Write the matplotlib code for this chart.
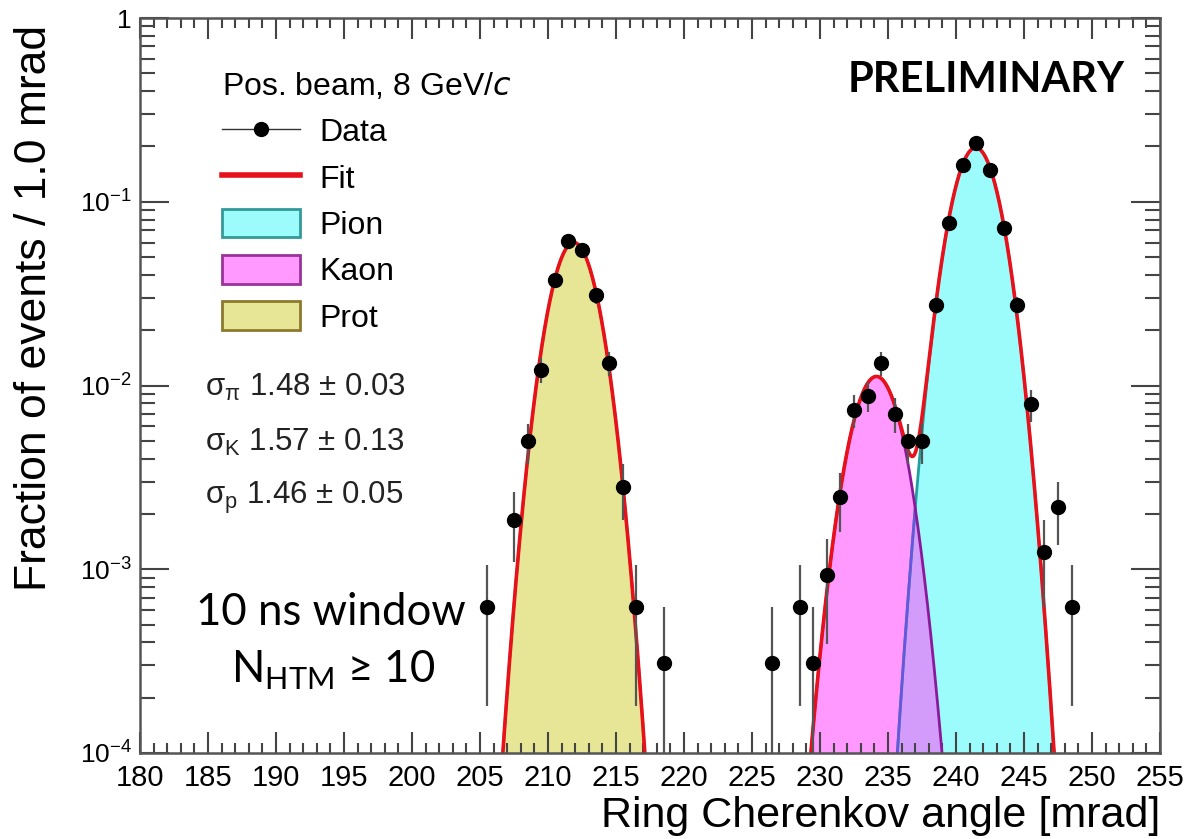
import numpy as np
import matplotlib
matplotlib.use('Agg')
import matplotlib.pyplot as plt
from matplotlib.lines import Line2D
from matplotlib.patches import Patch
from matplotlib.ticker import MultipleLocator, FixedLocator, FixedFormatter, NullFormatter

# 数据：每个 bin 的中心 (mrad) 和事件比例
angle = [205.5, 207.5, 208.5, 209.5, 210.5, 211.5, 212.5, 213.5, 214.5, 215.5, 216.5, 218.5,
         226.5, 228.5, 229.5, 230.5, 231.5, 232.5, 233.5, 234.5, 235.5, 236.5, 237.5,
         238.5, 239.5, 240.5, 241.5, 242.5, 243.5, 244.5, 245.5, 246.5, 247.5, 248.5]
fraction = [6.2e-4, 1.86e-3, 4.96e-3, 1.22e-2, 3.75e-2, 6.14e-2, 5.46e-2, 3.10e-2, 1.32e-2, 2.79e-3, 6.2e-4, 3.1e-4,
            3.1e-4, 6.2e-4, 3.1e-4, 9.3e-4, 2.48e-3, 7.4e-3, 8.8e-3, 1.32e-2, 7.0e-3, 4.96e-3, 4.96e-3,
            2.74e-2, 7.69e-2, 0.158, 0.208, 0.149, 7.16e-2, 2.74e-2, 7.9e-3, 1.24e-3, 2.17e-3, 6.2e-4]
error = [4.4e-4, 7.6e-4, 1.24e-3, 1.94e-3, 3.4e-3, 4.4e-3, 4.1e-3, 3.1e-3, 2.0e-3, 9.3e-4, 4.4e-4, 3.1e-4,
         3.1e-4, 4.4e-4, 3.1e-4, 5.4e-4, 8.8e-4, 1.5e-3, 1.65e-3, 2.0e-3, 1.5e-3, 1.24e-3, 1.24e-3,
         2.9e-3, 4.9e-3, 7.0e-3, 8.0e-3, 6.8e-3, 4.7e-3, 2.9e-3, 1.55e-3, 6.2e-4, 8.2e-4, 4.4e-4]

# 拟合参数：幅度, 均值, sigma
pion_fit = [0.197, 241.45, 1.48]
kaon_fit = [0.0112, 234.15, 1.57]
prot_fit = [0.060, 211.9, 1.46]

sigma_labels = ['σ$_\\mathregular{π}$ 1.48 ± 0.03',
                'σ$_\\mathregular{K}$ 1.57 ± 0.13',
                'σ$_\\mathregular{p}$ 1.46 ± 0.05']

helv = ['Liberation Sans', 'DejaVu Sans']
calib = ['Lato', 'DejaVu Sans']


def gauss(x, p):
    return p[0] * np.exp(-0.5 * ((x - p[1]) / p[2]) ** 2)


x = np.linspace(180, 255, 4000)
pion = gauss(x, pion_fit)
kaon = gauss(x, kaon_fit)
prot = gauss(x, prot_fit)
total = pion + kaon + prot

fig = plt.figure(figsize=(11.91, 8.39), dpi=100)
ax = fig.add_axes([140 / 1191, 1 - 753 / 839, 1020 / 1191, 735 / 839])
ax.set_yscale('log')
ax.set_xlim(180, 255)
ax.set_ylim(1e-4, 1)

# 填充各粒子成分
c_pion, c_kaon, c_prot, c_both = '#9cfcfc', '#ff99ff', '#e6e696', '#d49cfa'
ax.fill_between(x, 1e-6, pion, where=pion > 1e-6, color=c_pion, lw=0)
ax.fill_between(x, 1e-6, kaon, where=kaon > 1e-6, color=c_kaon, lw=0)
both = np.minimum(pion, kaon)
ax.fill_between(x, 1e-6, both, where=both > 1e-6, color=c_both, lw=0)
ax.fill_between(x, 1e-6, prot, where=prot > 1e-6, color=c_prot, lw=0)

ax.plot(x, pion, color='#22a0a0', lw=2)
low = pion < kaon
ax.plot(x[low], pion[low], color='#6a55dd', lw=2)
ax.plot(x, kaon, color='#8a1a9a', lw=2)
ax.plot(x, prot, color='#999933', lw=2)
ax.plot(x, total, color='#e8101a', lw=2.6)

# 数据点和误差棒
fr = np.array(fraction)
er = np.array(error)
lower = np.minimum(er, fr * 0.999)
ax.errorbar(angle, fraction, yerr=[lower, er], fmt='o', color='black', ms=10,
            ecolor='#555555', elinewidth=1.6, capsize=0, zorder=5)

# 坐标轴刻度
ax.xaxis.set_major_locator(MultipleLocator(5))
ax.xaxis.set_minor_locator(MultipleLocator(1))
ax.yaxis.set_major_locator(FixedLocator([1e-4, 1e-3, 1e-2, 1e-1, 1]))
ax.yaxis.set_major_formatter(FixedFormatter(['$\\mathregular{10^{-4}}$', '$\\mathregular{10^{-3}}$',
                                             '$\\mathregular{10^{-2}}$', '$\\mathregular{10^{-1}}$', '1']))
ax.yaxis.set_minor_locator(FixedLocator([m * 10.0 ** e for e in range(-4, 0) for m in range(2, 10)]))
ax.yaxis.set_minor_formatter(NullFormatter())
ax.tick_params(which='both', direction='in', top=True, right=True, color='#444444', width=1.5)
ax.tick_params(axis='x', which='major', length=15, pad=8)
ax.tick_params(axis='x', which='minor', length=7)
ax.tick_params(axis='y', which='major', length=21, pad=6)
ax.tick_params(axis='y', which='minor', length=11)
for lab in ax.get_xticklabels():
    lab.set_family(helv)
    lab.set_fontsize(21)
for lab in ax.get_yticklabels():
    lab.set_family(helv)
    lab.set_fontsize(19)
for s in ax.spines.values():
    s.set_color('#555555')
    s.set_linewidth(1.8)

ax.set_xlabel('Ring Cherenkov angle [mrad]', family=helv, fontsize=31, loc='right')
ax.xaxis.set_label_coords(1.0, -0.058)
ax.set_ylabel('Fraction of events / 1.0 mrad', family=helv, fontsize=32, loc='top')
ax.yaxis.set_label_coords(-0.083, 0.99)

# 图例
handles = [Line2D([], [], color='#333333', lw=1, marker='o', ms=10, mfc='black', mec='black'),
           Line2D([], [], color='#e8101a', lw=4),
           Patch(facecolor=c_pion, edgecolor='#339999', lw=2),
           Patch(facecolor=c_kaon, edgecolor='#993399', lw=2),
           Patch(facecolor=c_prot, edgecolor='#8c7a2e', lw=2)]
leg = ax.legend(handles, ['Data', 'Fit', 'Pion', 'Kaon', 'Prot'],
                title='Pos. beam, 8 GeV/$\\mathit{c}$', alignment='left',
                loc='upper left', bbox_to_anchor=(0.068, 0.945), frameon=False,
                prop={'family': helv, 'size': 23}, title_fontproperties={'family': helv, 'size': 23},
                handlelength=2.45, handleheight=1.0, labelspacing=0.44, handletextpad=0.6,
                borderaxespad=0, numpoints=1)

for i, t in enumerate(sigma_labels):
    ax.text(0.064, 0.497 - i * 0.075, t, transform=ax.transAxes, family=helv, fontsize=22.5,
            ha='left', va='center', color='#222222')

ax.text(0.83, 0.915, 'PRELIMINARY', transform=ax.transAxes, family=calib, fontsize=30,
        fontweight='bold', ha='center', va='center')
ax.text(0.187, 0.174, '10 ns window', transform=ax.transAxes, family=calib, fontsize=31.5,
        ha='center', va='baseline')
ax.text(0.189, 0.095, 'N$_\\mathregular{HTM}$ ≥ 10', transform=ax.transAxes, family=calib, fontsize=31.5,
        ha='center', va='baseline')

plt.savefig('out.png', dpi=100)
